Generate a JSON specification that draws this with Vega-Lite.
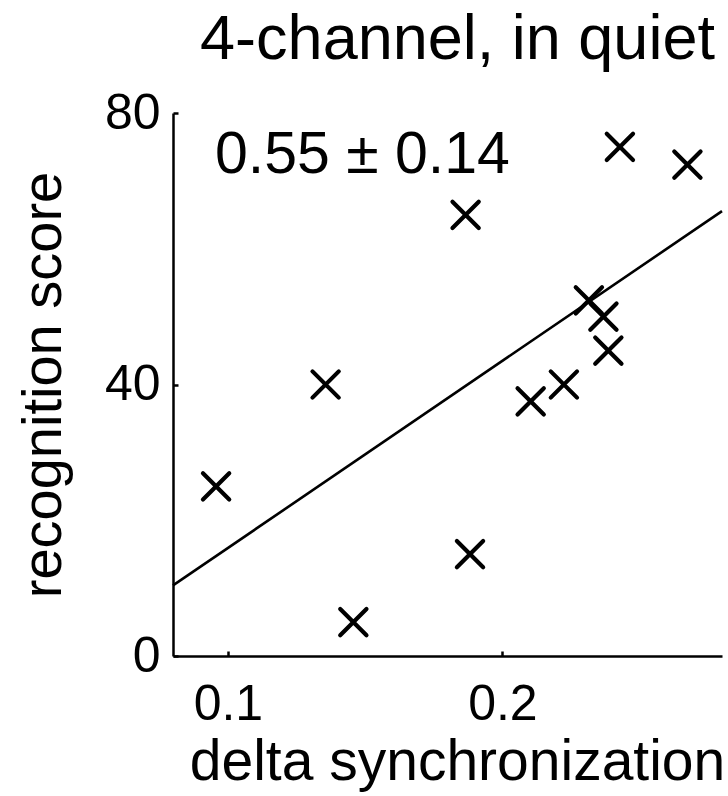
{
  "$schema": "https://vega.github.io/schema/vega-lite/v6.json",
  "autosize": "none",
  "width": 549,
  "height": 543,
  "padding": {"left": 173, "top": 113, "right": 6, "bottom": 140},
  "background": "white",
  "config": {
    "view": {"stroke": null},
    "font": "Liberation Sans"
  },
  "title": {
    "text": "4-channel, in quiet",
    "fontSize": 63,
    "fontWeight": "normal",
    "font": "Liberation Sans",
    "color": "black",
    "offset": 16,
    "dx": 10
  },
  "data": {
    "values": [
      {"sync": 0.0957, "score": 25},
      {"sync": 0.1356, "score": 40},
      {"sync": 0.1457, "score": 5},
      {"sync": 0.1866, "score": 65},
      {"sync": 0.1882, "score": 15},
      {"sync": 0.2103, "score": 37.5},
      {"sync": 0.2224, "score": 40},
      {"sync": 0.2315, "score": 52.4},
      {"sync": 0.2368, "score": 50},
      {"sync": 0.2386, "score": 45},
      {"sync": 0.2428, "score": 75},
      {"sync": 0.2674, "score": 72.4}
    ]
  },
  "encoding": {
    "x": {
      "field": "sync",
      "type": "quantitative",
      "scale": {"domain": [0.08, 0.28], "nice": false, "zero": false},
      "axis": {
        "title": "delta synchronization",
        "values": [0.1, 0.2],
        "format": ".1f",
        "grid": false,
        "domainColor": "black",
        "domainWidth": 2.5,
        "tickColor": "black",
        "tickWidth": 2.5,
        "tickSize": -5,
        "labelFontSize": 50,
        "labelColor": "black",
        "labelFont": "Liberation Sans",
        "labelPadding": 28,
        "labelFlush": false,
        "titleFontSize": 57,
        "titleFontWeight": "normal",
        "titleColor": "black",
        "titleFont": "Liberation Sans",
        "titleBaseline": "alphabetic",
        "titleX": 284,
        "titleY": 123
      }
    },
    "y": {
      "field": "score",
      "type": "quantitative",
      "scale": {"domain": [0, 80], "nice": false},
      "axis": {
        "title": "recognition score",
        "values": [0, 40, 80],
        "grid": false,
        "domainColor": "black",
        "domainWidth": 2.5,
        "tickColor": "black",
        "tickWidth": 2.5,
        "tickSize": -5,
        "labelFontSize": 50,
        "labelColor": "black",
        "labelFont": "Liberation Sans",
        "labelPadding": 18,
        "labelFlush": false,
        "titleFontSize": 56,
        "titleFontWeight": "normal",
        "titleColor": "black",
        "titleFont": "Liberation Sans",
        "titleBaseline": "alphabetic",
        "titleX": -113,
        "titleAnchor": "middle"
      }
    }
  },
  "layer": [
    {
      "mark": {
        "type": "point",
        "shape": "M-1,-1L1,1M-1,1L1,-1",
        "filled": false,
        "stroke": "black",
        "strokeWidth": 4.2,
        "strokeCap": "round",
        "size": 690,
        "opacity": 1
      }
    },
    {
      "transform": [
        {"regression": "score", "on": "sync", "extent": [0.08, 0.28]}
      ],
      "mark": {"type": "line", "color": "black", "strokeWidth": 2.6, "clip": false}
    },
    {
      "data": {"values": [{"sx": 0.0953, "sy": 71.2, "label": "0.55 ± 0.14"}]},
      "mark": {
        "type": "text",
        "align": "left",
        "baseline": "alphabetic",
        "fontSize": 59,
        "font": "Liberation Sans",
        "color": "black"
      },
      "encoding": {
        "x": {"field": "sx", "type": "quantitative"},
        "y": {"field": "sy", "type": "quantitative"},
        "text": {"field": "label"}
      }
    }
  ]
}
